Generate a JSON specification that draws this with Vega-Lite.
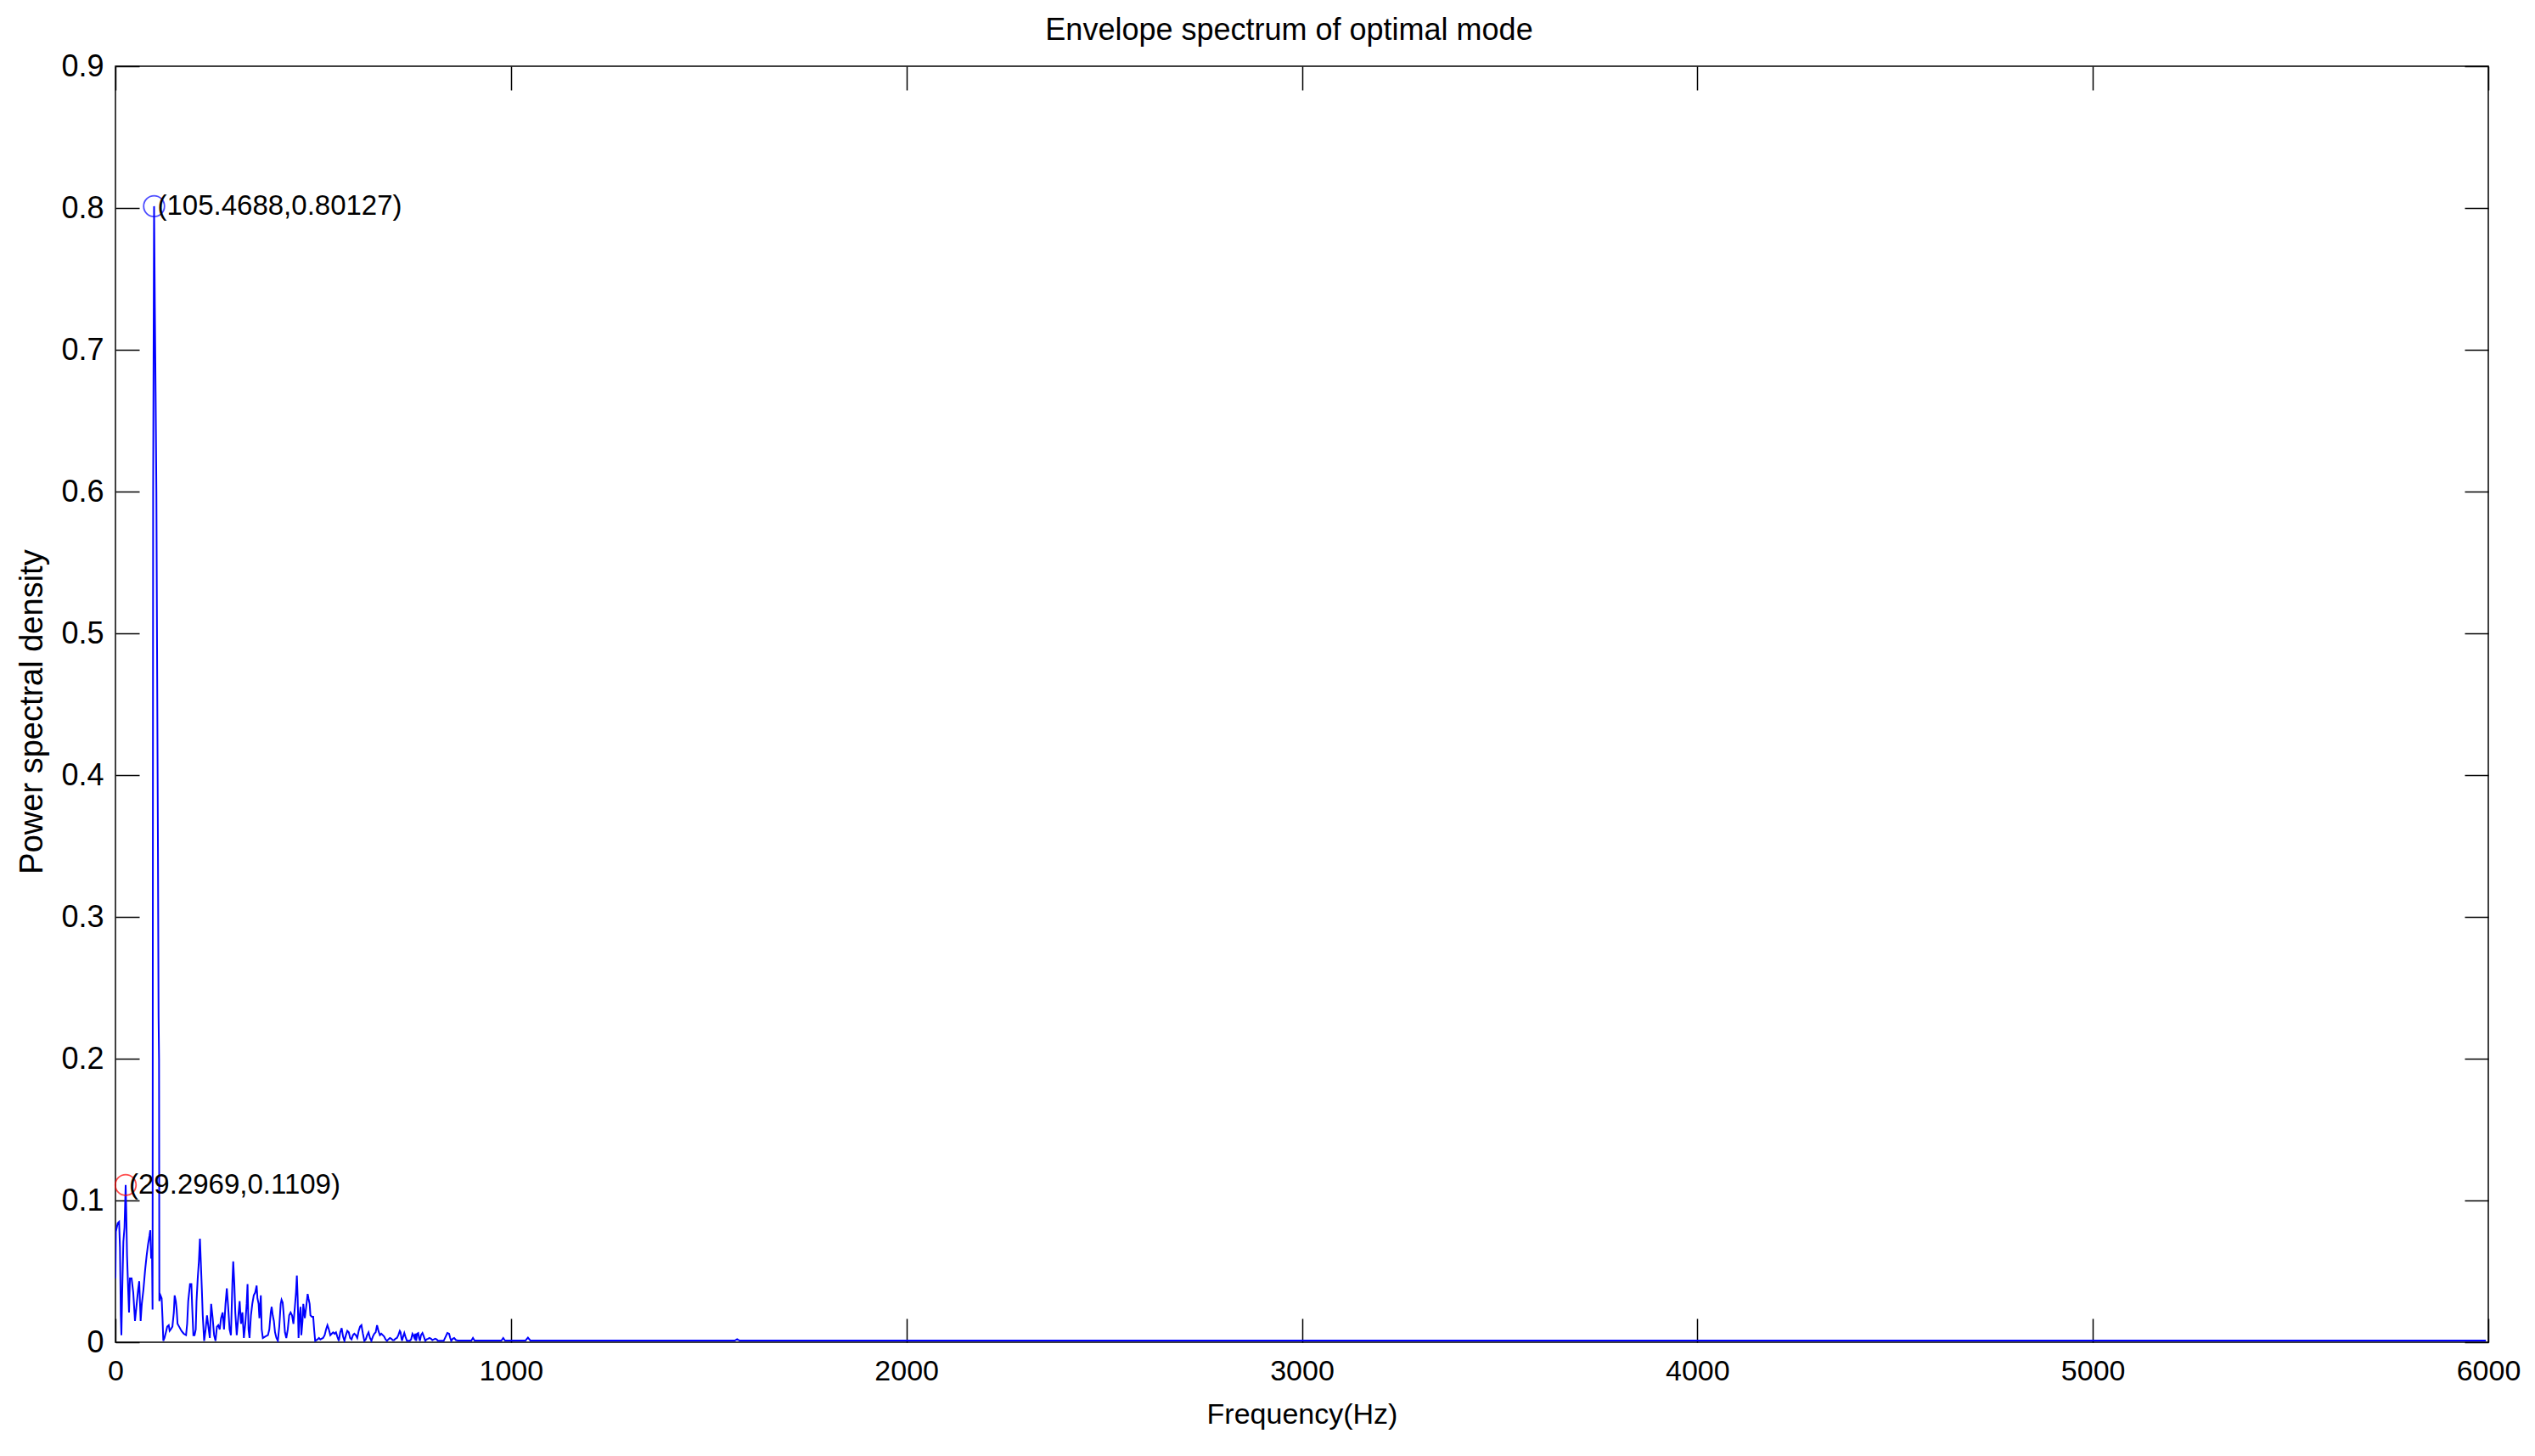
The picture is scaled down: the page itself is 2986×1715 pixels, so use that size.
{
  "$schema": "https://vega.github.io/schema/vega-lite/v6.json",
  "autosize": "none",
  "width": 2795,
  "height": 1503,
  "padding": {"left": 136, "top": 78, "right": 55, "bottom": 134},
  "background": "white",
  "config": {
    "view": {"stroke": "black", "strokeWidth": 1.5},
    "font": "Liberation Sans"
  },
  "title": {
    "text": "Envelope spectrum of optimal mode",
    "fontSize": 36,
    "fontWeight": "normal",
    "font": "Liberation Sans",
    "color": "black",
    "offset": 5,
    "dx": -15
  },
  "datasets": {
    "spec": [
      {"f": 0, "p": 0.045}, {"f": 1, "p": 0.078}, {"f": 5.7, "p": 0.084}, {"f": 9.2, "p": 0.085},
      {"f": 11.4, "p": 0.067}, {"f": 13.5, "p": 0.019}, {"f": 15, "p": 0.005}, {"f": 17, "p": 0.035},
      {"f": 20, "p": 0.071}, {"f": 22.9, "p": 0.081}, {"f": 25.8, "p": 0.1109}, {"f": 27.4, "p": 0.091},
      {"f": 29.3, "p": 0.061}, {"f": 32.2, "p": 0.037}, {"f": 34.3, "p": 0.021}, {"f": 36.5, "p": 0.045},
      {"f": 40.8, "p": 0.045}, {"f": 45, "p": 0.035}, {"f": 49.4, "p": 0.015}, {"f": 53.7, "p": 0.027},
      {"f": 57.3, "p": 0.037}, {"f": 60.1, "p": 0.043}, {"f": 63.7, "p": 0.015}, {"f": 66.6, "p": 0.027},
      {"f": 70.7, "p": 0.037}, {"f": 75, "p": 0.051}, {"f": 78.8, "p": 0.061}, {"f": 82.4, "p": 0.069},
      {"f": 86, "p": 0.075}, {"f": 88, "p": 0.079}, {"f": 90.3, "p": 0.059}, {"f": 92.4, "p": 0.065},
      {"f": 93.8, "p": 0.023}, {"f": 95.3, "p": 0.6}, {"f": 97.66, "p": 0.80127}, {"f": 99.6, "p": 0.73},
      {"f": 101.5, "p": 0.67}, {"f": 103.5, "p": 0.6}, {"f": 105.5, "p": 0.47}, {"f": 107.4, "p": 0.35},
      {"f": 109.0, "p": 0.23}, {"f": 110.2, "p": 0.2}, {"f": 111, "p": 0.029}, {"f": 113.9, "p": 0.033},
      {"f": 116.8, "p": 0.031}, {"f": 119, "p": 0.017}, {"f": 121, "p": 0.001}, {"f": 124, "p": 0.003},
      {"f": 127.6, "p": 0.007}, {"f": 131, "p": 0.011}, {"f": 134.7, "p": 0.012}, {"f": 137, "p": 0.008},
      {"f": 139.7, "p": 0.009}, {"f": 144, "p": 0.011}, {"f": 147.6, "p": 0.021}, {"f": 149.7, "p": 0.033},
      {"f": 152.6, "p": 0.029}, {"f": 154.8, "p": 0.023}, {"f": 157, "p": 0.013}, {"f": 161, "p": 0.011},
      {"f": 167, "p": 0.008}, {"f": 172.7, "p": 0.006}, {"f": 178.5, "p": 0.005}, {"f": 181.3, "p": 0.013},
      {"f": 184, "p": 0.029}, {"f": 188.5, "p": 0.041}, {"f": 192, "p": 0.041}, {"f": 194, "p": 0.025},
      {"f": 197, "p": 0.005}, {"f": 200, "p": 0.005}, {"f": 203, "p": 0.009}, {"f": 205, "p": 0.029},
      {"f": 208, "p": 0.045}, {"f": 211, "p": 0.057}, {"f": 213.6, "p": 0.073}, {"f": 215.8, "p": 0.057},
      {"f": 218.5, "p": 0.037}, {"f": 220.7, "p": 0.019}, {"f": 224.3, "p": 0.001}, {"f": 228, "p": 0.009},
      {"f": 231.5, "p": 0.019}, {"f": 235, "p": 0.011}, {"f": 238.6, "p": 0.003}, {"f": 242, "p": 0.027},
      {"f": 245.8, "p": 0.017}, {"f": 249.4, "p": 0.005}, {"f": 253, "p": 0.001}, {"f": 256.6, "p": 0.011},
      {"f": 260, "p": 0.012}, {"f": 263.7, "p": 0.009}, {"f": 267, "p": 0.017}, {"f": 271, "p": 0.021},
      {"f": 274.5, "p": 0.009}, {"f": 278.3, "p": 0.027}, {"f": 281.6, "p": 0.038}, {"f": 285, "p": 0.025},
      {"f": 288.6, "p": 0.009}, {"f": 292, "p": 0.005}, {"f": 295.6, "p": 0.041}, {"f": 297.8, "p": 0.057},
      {"f": 300.6, "p": 0.041}, {"f": 303, "p": 0.021}, {"f": 306.7, "p": 0.005}, {"f": 310.3, "p": 0.017},
      {"f": 314, "p": 0.029}, {"f": 317.5, "p": 0.013}, {"f": 321, "p": 0.021}, {"f": 324.7, "p": 0.003},
      {"f": 328.3, "p": 0.013}, {"f": 331.8, "p": 0.027}, {"f": 334, "p": 0.041}, {"f": 336.5, "p": 0.009},
      {"f": 339, "p": 0.003}, {"f": 342.6, "p": 0.019}, {"f": 346, "p": 0.027}, {"f": 349.7, "p": 0.033},
      {"f": 353.3, "p": 0.035}, {"f": 357, "p": 0.04}, {"f": 359, "p": 0.031}, {"f": 362, "p": 0.027},
      {"f": 364, "p": 0.017}, {"f": 367.6, "p": 0.033}, {"f": 369.8, "p": 0.009}, {"f": 372.7, "p": 0.003},
      {"f": 378.4, "p": 0.004}, {"f": 385.6, "p": 0.005}, {"f": 389, "p": 0.009}, {"f": 392.7, "p": 0.021},
      {"f": 395, "p": 0.025}, {"f": 397.7, "p": 0.019}, {"f": 400.6, "p": 0.015}, {"f": 403.5, "p": 0.007},
      {"f": 407, "p": 0.003}, {"f": 410.7, "p": 0.001}, {"f": 414.2, "p": 0.011}, {"f": 417.8, "p": 0.027},
      {"f": 420, "p": 0.03}, {"f": 422.8, "p": 0.028}, {"f": 425, "p": 0.021}, {"f": 428.6, "p": 0.007},
      {"f": 432, "p": 0.003}, {"f": 435.7, "p": 0.009}, {"f": 439.3, "p": 0.019}, {"f": 442.9, "p": 0.021},
      {"f": 446.5, "p": 0.019}, {"f": 450, "p": 0.013}, {"f": 453.7, "p": 0.025}, {"f": 456.5, "p": 0.035},
      {"f": 458.7, "p": 0.047}, {"f": 460.8, "p": 0.031}, {"f": 463, "p": 0.003}, {"f": 465, "p": 0.017},
      {"f": 468, "p": 0.025}, {"f": 470, "p": 0.005}, {"f": 473, "p": 0.015}, {"f": 475, "p": 0.027},
      {"f": 478.8, "p": 0.017}, {"f": 482.3, "p": 0.025}, {"f": 486, "p": 0.034}, {"f": 488, "p": 0.031},
      {"f": 491, "p": 0.027}, {"f": 493, "p": 0.019}, {"f": 496.7, "p": 0.018}, {"f": 500, "p": 0.018},
      {"f": 502.4, "p": 0.009}, {"f": 505, "p": 0.001}, {"f": 511, "p": 0.002}, {"f": 514.6, "p": 0.003},
      {"f": 518, "p": 0.002}, {"f": 525, "p": 0.003}, {"f": 529, "p": 0.005}, {"f": 532.5, "p": 0.009},
      {"f": 536, "p": 0.012}, {"f": 539.7, "p": 0.009}, {"f": 543.3, "p": 0.005}, {"f": 546.8, "p": 0.006},
      {"f": 550.4, "p": 0.007}, {"f": 554, "p": 0.006}, {"f": 557.6, "p": 0.007}, {"f": 561, "p": 0.004},
      {"f": 564.8, "p": 0.001}, {"f": 568.3, "p": 0.007}, {"f": 572, "p": 0.01}, {"f": 575.5, "p": 0.004},
      {"f": 579, "p": 0.001}, {"f": 582.7, "p": 0.005}, {"f": 586.3, "p": 0.008}, {"f": 590, "p": 0.007},
      {"f": 593.4, "p": 0.003}, {"f": 597, "p": 0.002}, {"f": 600.6, "p": 0.005}, {"f": 604, "p": 0.006},
      {"f": 607.8, "p": 0.005}, {"f": 611.4, "p": 0.003}, {"f": 615, "p": 0.008}, {"f": 618.5, "p": 0.011},
      {"f": 622, "p": 0.012}, {"f": 625.7, "p": 0.006}, {"f": 629.3, "p": 0.001}, {"f": 632.9, "p": 0.002},
      {"f": 636.4, "p": 0.005}, {"f": 640, "p": 0.007}, {"f": 643.6, "p": 0.003}, {"f": 647.2, "p": 0.001},
      {"f": 650.8, "p": 0.004}, {"f": 654.4, "p": 0.006}, {"f": 658, "p": 0.007}, {"f": 661.5, "p": 0.012},
      {"f": 665, "p": 0.008}, {"f": 668.7, "p": 0.005}, {"f": 672.3, "p": 0.006}, {"f": 676, "p": 0.005},
      {"f": 679.5, "p": 0.004}, {"f": 683, "p": 0.002}, {"f": 686.6, "p": 0.001}, {"f": 690, "p": 0.002},
      {"f": 694, "p": 0.003}, {"f": 697.4, "p": 0.0025}, {"f": 701, "p": 0.0015}, {"f": 704.6, "p": 0.0015},
      {"f": 708, "p": 0.0025}, {"f": 711.7, "p": 0.003}, {"f": 715.3, "p": 0.005}, {"f": 719, "p": 0.008},
      {"f": 721, "p": 0.007}, {"f": 723, "p": 0.003}, {"f": 724.6, "p": 0.001}, {"f": 727.5, "p": 0.004},
      {"f": 730.4, "p": 0.0065}, {"f": 733.2, "p": 0.004}, {"f": 737, "p": 0.001}, {"f": 744, "p": 0.001},
      {"f": 747.6, "p": 0.002}, {"f": 751, "p": 0.006}, {"f": 753.3, "p": 0.005}, {"f": 756, "p": 0.003},
      {"f": 758.3, "p": 0.006}, {"f": 760.5, "p": 0.001}, {"f": 762.6, "p": 0.006}, {"f": 765.5, "p": 0.0065},
      {"f": 767.6, "p": 0.003}, {"f": 770, "p": 0.001}, {"f": 772.6, "p": 0.005}, {"f": 776.3, "p": 0.0065},
      {"f": 779.8, "p": 0.004}, {"f": 783.4, "p": 0.001}, {"f": 787, "p": 0.002}, {"f": 790.6, "p": 0.0025},
      {"f": 794, "p": 0.003}, {"f": 797.8, "p": 0.0025}, {"f": 801.3, "p": 0.0015}, {"f": 805, "p": 0.002},
      {"f": 808.5, "p": 0.0025}, {"f": 812, "p": 0.002}, {"f": 815.7, "p": 0.001}, {"f": 830, "p": 0.001},
      {"f": 835, "p": 0.004}, {"f": 839.3, "p": 0.0065}, {"f": 843.6, "p": 0.006}, {"f": 846.5, "p": 0.003},
      {"f": 849, "p": 0.001}, {"f": 853, "p": 0.0025}, {"f": 856.5, "p": 0.003}, {"f": 861, "p": 0.0015},
      {"f": 866, "p": 0.0012}, {"f": 900, "p": 0.0012}, {"f": 904, "p": 0.003}, {"f": 908, "p": 0.0012},
      {"f": 976, "p": 0.0012}, {"f": 980.5, "p": 0.003}, {"f": 985, "p": 0.0012}, {"f": 1037, "p": 0.0012},
      {"f": 1043, "p": 0.0032}, {"f": 1049, "p": 0.0012}, {"f": 1566, "p": 0.0012}, {"f": 1572, "p": 0.0022},
      {"f": 1578, "p": 0.0012}, {"f": 5994, "p": 0.0012}
    ],
    "marks": [
      {"f": 97.66, "p": 0.80127, "label": "(105.4688,0.80127)", "color": "#0000ff"},
      {"f": 25.8, "p": 0.1109, "label": "(29.2969,0.1109)", "color": "#ff0000"}
    ]
  },
  "encoding": {
    "x": {"field": "f", "type": "quantitative", "scale": {"domain": [0, 6000], "nice": false, "zero": false}},
    "y": {"field": "p", "type": "quantitative", "scale": {"domain": [0, 0.9], "nice": false}}
  },
  "layer": [
    {
      "data": {"name": "spec"},
      "mark": {"type": "line", "color": "#0000ff", "strokeWidth": 2, "clip": true},
      "encoding": {
        "x": {"field": "f", "type": "quantitative",
          "axis": {"orient": "bottom", "offset": -28, "tickSize": 28, "tickWidth": 1.5, "tickColor": "black",
            "domain": false, "grid": false, "values": [0, 1000, 2000, 3000, 4000, 5000, 6000], "format": "d",
            "labelPadding": 17, "labelFontSize": 34, "labelFont": "Liberation Sans", "labelColor": "black",
            "labelFlush": false, "labelOverlap": false,
            "title": "Frequency(Hz)", "titleFontSize": 34, "titleFont": "Liberation Sans", "titleFontWeight": "normal",
            "titleColor": "black", "titleY": 113, "titleBaseline": "middle"}},
        "y": {"field": "p", "type": "quantitative",
          "axis": {"orient": "left", "offset": -28, "tickSize": 28, "tickWidth": 1.5, "tickColor": "black",
            "domain": false, "grid": false, "values": [0, 0.1, 0.2, 0.3, 0.4, 0.5, 0.6, 0.7, 0.8, 0.9], "format": "~g",
            "labelPadding": 14, "labelFontSize": 36, "labelFont": "Liberation Sans", "labelColor": "black",
            "labelFlush": false, "labelOverlap": false,
            "title": "Power spectral density", "titleFontSize": 38, "titleFont": "Liberation Sans", "titleFontWeight": "normal",
            "titleColor": "black", "titleX": -126, "titleY": 760, "titleBaseline": "middle", "titleAngle": -90}}
      }
    },
    {
      "data": {"name": "marks"},
      "mark": {"type": "point", "shape": "circle", "filled": false, "size": 600, "strokeWidth": 1.8},
      "encoding": {
        "x": {"field": "f", "type": "quantitative",
          "axis": {"orient": "top", "offset": -28, "tickSize": 28, "tickWidth": 1.5, "tickColor": "black",
            "domain": false, "grid": false, "labels": false, "title": null,
            "values": [0, 1000, 2000, 3000, 4000, 5000, 6000]}},
        "y": {"field": "p", "type": "quantitative",
          "axis": {"orient": "right", "offset": -28, "tickSize": 28, "tickWidth": 1.5, "tickColor": "black",
            "domain": false, "grid": false, "labels": false, "title": null,
            "values": [0, 0.1, 0.2, 0.3, 0.4, 0.5, 0.6, 0.7, 0.8, 0.9]}},
        "color": {"field": "color", "type": "nominal", "scale": null}
      }
    },
    {
      "data": {"name": "marks"},
      "mark": {"type": "text", "align": "left", "baseline": "middle", "dx": 4, "fontSize": 33, "font": "Liberation Sans", "color": "black"},
      "encoding": {
        "x": {"field": "f", "type": "quantitative", "axis": null},
        "y": {"field": "p", "type": "quantitative", "axis": null},
        "text": {"field": "label"}
      }
    }
  ],
  "resolve": {"axis": {"x": "independent", "y": "independent"}}
}
